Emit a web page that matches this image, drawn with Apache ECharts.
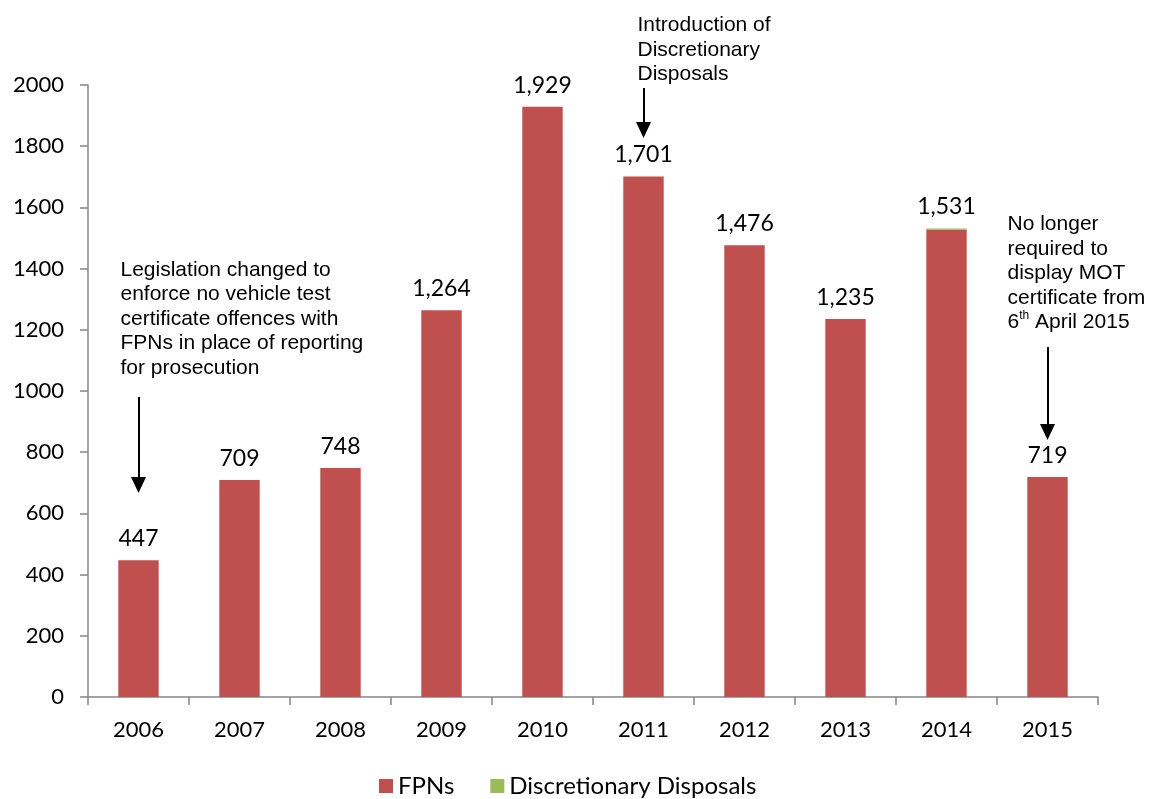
<!DOCTYPE html>
<html>
<head>
<meta charset="utf-8">
<script src="https://cdn.jsdelivr.net/npm/echarts@6/dist/echarts.min.js"></script>
<style>html,body{margin:0;padding:0;background:#fff}#c{width:1153px;height:799px}</style>
</head>
<body>
<div id="c"></div>
<script>
const years = ['2006','2007','2008','2009','2010','2011','2012','2013','2014','2015'];
const fpns = [447, 709, 748, 1264, 1929, 1701, 1476, 1235, 1528, 719];
const discretionary = [0, 0, 0, 0, 0, 0, 0, 0, 3, 0];
const yTicks = [0, 200, 400, 600, 800, 1000, 1200, 1400, 1600, 1800, 2000];
const totals = fpns.map((v, i) => v + discretionary[i]);

const arrows = [
  { year: '2006', from: 980, to: 693 },
  { year: '2011', from: 1990, to: 1853 },
  { year: '2015', from: 1144, to: 866 }
];

const font = 'Lato';
const chart = echarts.init(document.getElementById('c'));
const axisGrey = '#868686';

chart.setOption({
  animation: false,
  grid: { left: 88, right: 55, top: 85, bottom: 102, containLabel: false },
  legend: {
    bottom: -4,
    left: 374,
    itemWidth: 14, itemHeight: 14, itemGap: 36,
    icon: 'rect',
    textStyle: { fontFamily: font, fontSize: 24, color: '#000' },
    data: ['FPNs', 'Discretionary Disposals']
  },
  xAxis: {
    type: 'category',
    data: years,
    axisLine: { lineStyle: { color: axisGrey, width: 1.5 } },
    axisTick: { show: true, length: 8, lineStyle: { color: axisGrey, width: 1.5 } },
    axisLabel: { fontFamily: font, fontSize: 22, color: '#000', margin: 22 }
  },
  yAxis: {
    type: 'value',
    min: 0, max: 2000, interval: 200,
    splitLine: { show: false },
    axisLine: { show: true, lineStyle: { color: axisGrey, width: 1.5 } },
    axisTick: { show: true, length: 8, lineStyle: { color: axisGrey, width: 1.5 } },
    axisLabel: { fontFamily: font, fontSize: 22, color: '#000', margin: 24,
      formatter: v => yTicks.includes(v) ? String(v) : '' }
  },
  series: [
    {
      name: 'FPNs', type: 'bar', stack: 'a', barWidth: '40%',
      itemStyle: { color: '#C0504D' },
      data: fpns,
      markLine: {
        silent: true,
        symbol: ['none', 'triangle'],
        symbolSize: [15, 16],
        lineStyle: { color: '#000', width: 2, type: 'solid' },
        label: { show: false },
        data: arrows.map(a => [{ coord: [a.year, a.from] }, { coord: [a.year, a.to] }])
      }
    },
    {
      name: 'Discretionary Disposals', type: 'bar', stack: 'a', barWidth: '40%',
      itemStyle: { color: '#9BBB59' },
      data: discretionary,
      label: {
        show: true, position: 'top', distance: 10,
        fontFamily: font, fontSize: 23, color: '#000',
        formatter: p => totals[p.dataIndex].toLocaleString('en-US')
      }
    }
  ]
});

const notes = [
  { year: '2006', yv: 1435, dx: -18, lines: ['Legislation changed to', 'enforce no vehicle test', 'certificate offences with', 'FPNs in place of reporting', 'for prosecution'] },
  { year: '2011', yv: 2235, dx: -6, lines: ['Introduction of', 'Discretionary', 'Disposals'] },
  { year: '2015', yv: 1585, dx: -40, lines: ['No longer', 'required to', 'display MOT', 'certificate from', '{n|6}{sup|th}{n| April 2015}'] }
];
const graphics = notes.map(n => {
  const p = chart.convertToPixel({ xAxisIndex: 0, yAxisIndex: 0 }, [n.year, n.yv]);
  return {
    type: 'text',
    left: p[0] + n.dx,
    top: p[1],
    style: {
      text: n.lines.join('\n'),
      font: '21px "Liberation Sans"',
      fill: '#000',
      lineHeight: 24.5,
      rich: {
        n: { fontFamily: 'Liberation Sans', fontSize: 21, lineHeight: 24.5 },
        sup: { fontFamily: 'Liberation Sans', fontSize: 12, verticalAlign: 'top', padding: [0, 0, 9, 0], lineHeight: 24.5 }
      }
    }
  };
});
chart.setOption({ graphic: graphics });
</script>
</body>
</html>
